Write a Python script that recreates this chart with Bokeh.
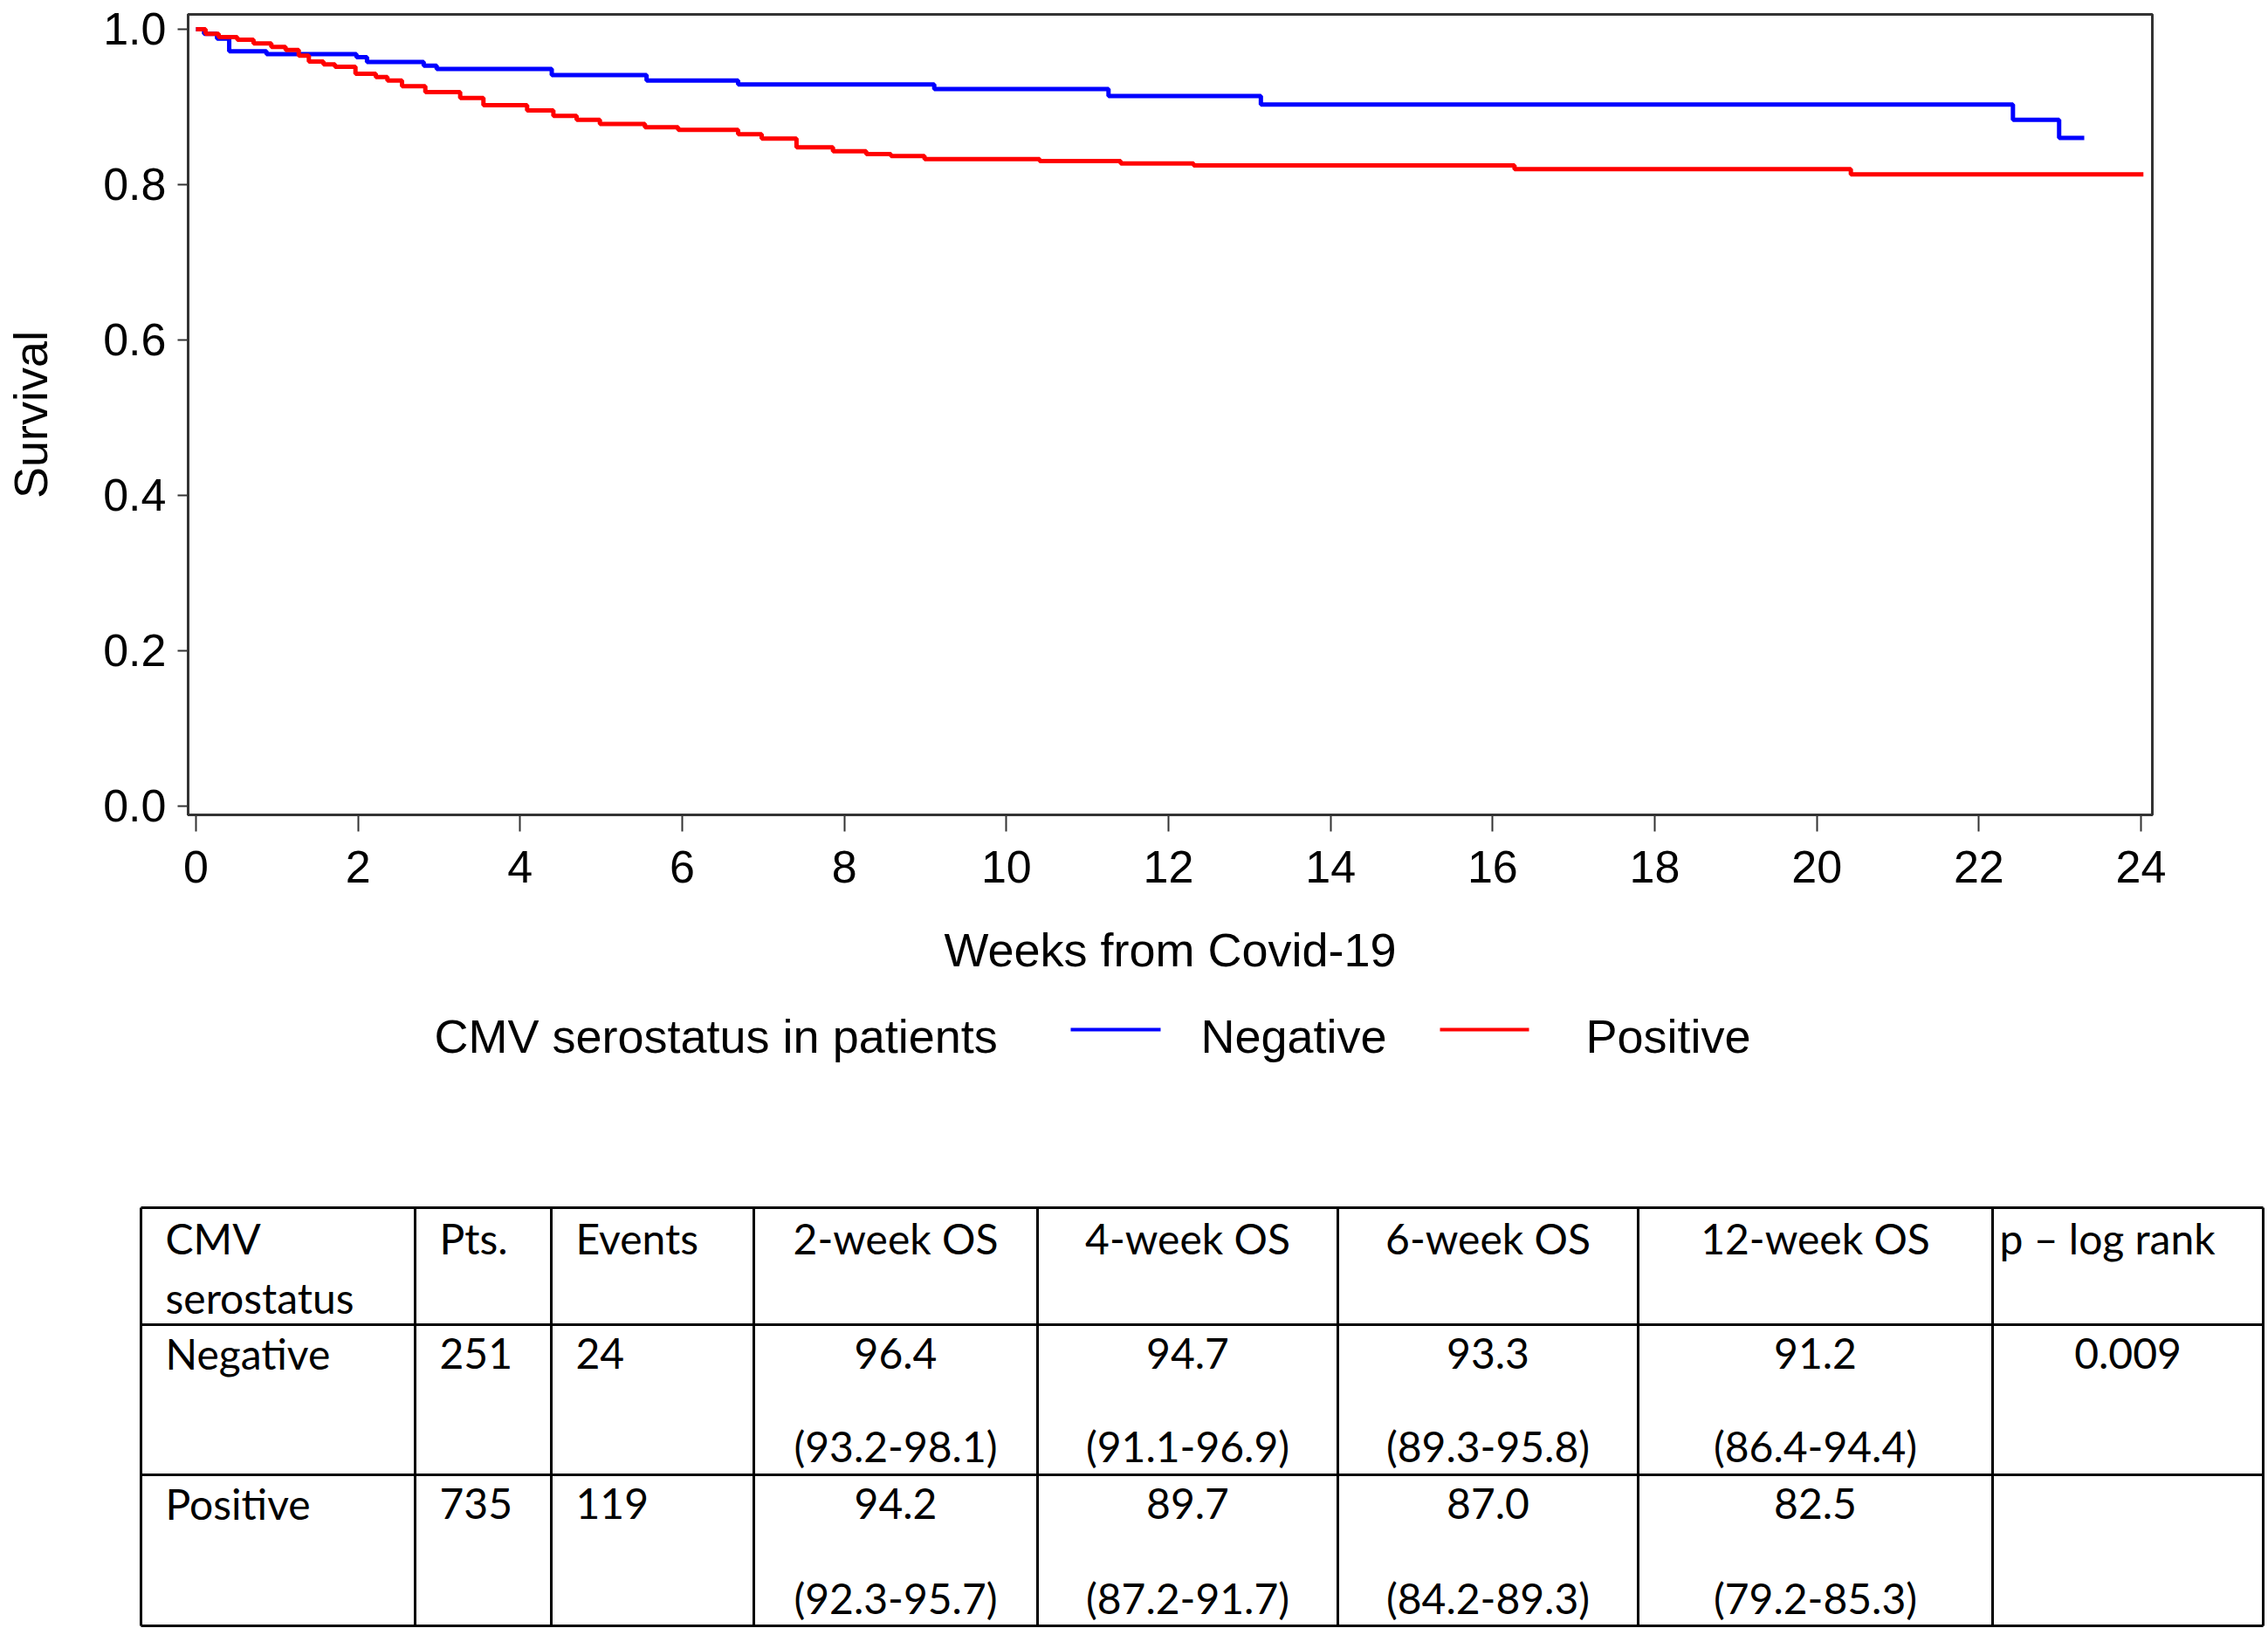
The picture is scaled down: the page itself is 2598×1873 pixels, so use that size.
from bokeh.plotting import figure
from bokeh.models import Range1d, FixedTicker, NumeralTickFormatter, ColumnDataSource
from bokeh.core.properties import value
from bokeh.embed import file_html
from bokeh.resources import INLINE

# ---------------- data ----------------
neg_weeks = [0, 0.10, 0.26, 0.41, 0.87, 1.98, 2.11, 2.81, 2.97, 4.39, 5.56, 6.69,
             9.11, 11.26, 13.14, 22.42, 22.99, 23.30]
neg_surv = [1.0, 0.994, 0.988, 0.9715, 0.968, 0.964, 0.958, 0.953, 0.949, 0.941,
            0.934, 0.929, 0.923, 0.914, 0.903, 0.8835, 0.860, 0.860]

pos_weeks = [0, 0.118, 0.28, 0.51, 0.71, 0.93, 1.106, 1.268, 1.393, 1.573, 1.716,
             1.968, 2.219, 2.362, 2.542, 2.83, 3.26, 3.547, 4.086, 4.41, 4.697,
             4.984, 5.54, 5.95, 6.69, 6.98, 7.41, 7.86, 8.27, 8.575, 8.99, 10.41,
             11.41, 12.31, 16.27, 20.42, 24.03]
pos_surv = [1.0, 0.994, 0.990, 0.9865, 0.9817, 0.9772, 0.9734, 0.9659, 0.9584,
            0.9547, 0.9517, 0.9427, 0.9386, 0.934, 0.9266, 0.9191, 0.9116, 0.9022,
            0.8955, 0.8884, 0.8835, 0.878, 0.874, 0.8704, 0.8648, 0.8592, 0.848,
            0.8431, 0.8393, 0.8367, 0.833, 0.8303, 0.8273, 0.8247, 0.8199, 0.8131,
            0.8131]

x_ticks = [0, 2, 4, 6, 8, 10, 12, 14, 16, 18, 20, 22, 24]
y_ticks = [0.0, 0.2, 0.4, 0.6, 0.8, 1.0]

legend_title = "CMV serostatus in patients"
series_names = ["Negative", "Positive"]
series_colors = ["#0000ff", "#ff0000"]

table_header = ["CMV serostatus", "Pts.", "Events", "2-week OS", "4-week OS",
                "6-week OS", "12-week OS", "p \u2013 log rank"]
groups = ["Negative", "Positive"]
pts = [251, 735]
events = [24, 119]
os_2wk = [96.4, 94.2]
ci_2wk = ["93.2-98.1", "92.3-95.7"]
os_4wk = [94.7, 89.7]
ci_4wk = ["91.1-96.9", "87.2-91.7"]
os_6wk = [93.3, 87.0]
ci_6wk = ["89.3-95.8", "84.2-89.3"]
os_12wk = [91.2, 82.5]
ci_12wk = ["86.4-94.4", "79.2-85.3"]
p_logrank = ["0.009", ""]

# ---------------- KM plot ----------------
W = 2598
H1 = 1140
AX_FONT = "Liberation Sans"

p1 = figure(width=W, height=H1, x_range=Range1d(-0.0969, 24.14),
            y_range=Range1d(-0.01124, 1.0191), output_backend="svg",
            toolbar_location=None, min_border_left=215, min_border_right=133,
            min_border_top=16, min_border_bottom=H1 - 933)
p1.grid.visible = False
p1.outline_line_color = "#333333"
p1.outline_line_width = 3
p1.background_fill_color = "white"
p1.border_fill_color = "white"

for name, xs, ys, col in [(series_names[0], neg_weeks, neg_surv, series_colors[0]),
                          (series_names[1], pos_weeks, pos_surv, series_colors[1])]:
    p1.step(x=xs, y=ys, mode="after", line_color=col, line_width=5)

xa = p1.xaxis[0]
xa.ticker = FixedTicker(ticks=x_ticks)
xa.minor_tick_line_color = None
xa.major_tick_out = 19
xa.major_tick_in = 0
xa.major_tick_line_width = 2
xa.major_tick_line_color = "#333333"
xa.axis_line_width = 3
xa.axis_line_color = "#333333"
xa.major_label_text_font = AX_FONT
xa.major_label_text_font_size = "52px"
xa.major_label_text_color = "black"
xa.major_label_standoff = 22
xa.axis_label = "Weeks from Covid-19"
xa.axis_label_text_font = AX_FONT
xa.axis_label_text_font_size = "54px"
xa.axis_label_text_font_style = "normal"
xa.axis_label_text_color = "black"
xa.axis_label_standoff = 44

ya = p1.yaxis[0]
ya.ticker = FixedTicker(ticks=y_ticks)
ya.formatter = NumeralTickFormatter(format="0.0")
ya.minor_tick_line_color = None
ya.major_tick_out = 12
ya.major_tick_in = 0
ya.major_tick_line_width = 2
ya.major_tick_line_color = "#333333"
ya.axis_line_width = 3
ya.axis_line_color = "#333333"
ya.major_label_text_font = AX_FONT
ya.major_label_text_font_size = "52px"
ya.major_label_text_color = "black"
ya.major_label_standoff = 13
ya.axis_label = "Survival"
ya.axis_label_text_font = AX_FONT
ya.axis_label_text_font_size = "54px"
ya.axis_label_text_font_style = "normal"
ya.axis_label_text_color = "black"
ya.axis_label_standoff = 50

# ---------------- legend + table panel (page pixel coordinates) ----------------
TOP = H1
BOT = 1873
p2 = figure(width=W, height=BOT - TOP, x_range=Range1d(0, W), y_range=Range1d(BOT, TOP),
            output_backend="svg", toolbar_location=None, x_axis_type=None,
            y_axis_type=None, min_border=0)
p2.grid.visible = False
p2.outline_line_color = None
p2.border_fill_color = "white"

DY = -17  # text baseline correction

# legend
p2.text(x=[497], y=[1203 + DY], text=[legend_title], text_font=value(AX_FONT),
        text_font_size=value("54px"), text_baseline="alphabetic", text_align="left",
        text_color="black")
sw_x0 = [1226, 1649]
sw_x1 = [1329, 1751]
lab_x = [1375, 1816]
p2.segment(x0=sw_x0, y0=[1179, 1179], x1=sw_x1, y1=[1179, 1179],
           line_color=series_colors, line_width=4)
p2.text(x=lab_x, y=[1203 + DY, 1203 + DY], text=series_names, text_font=value(AX_FONT),
        text_font_size=value("54px"), text_baseline="alphabetic", text_align="left",
        text_color="black")

# table grid
col_edges = [161, 475, 631, 863, 1188, 1532, 1876, 2282, 2592]
row_edges = [1383, 1517, 1689, 1862]
p2.segment(x0=[col_edges[0]] * len(row_edges), y0=row_edges,
           x1=[col_edges[-1]] * len(row_edges), y1=row_edges,
           line_color="black", line_width=3)
p2.segment(x0=col_edges, y0=[row_edges[0]] * len(col_edges),
           x1=col_edges, y1=[row_edges[-1]] * len(col_edges),
           line_color="black", line_width=3)

TFONT = "Lato"
TSIZE = "48px"
PAD = 28
centers = [(col_edges[i] + col_edges[i + 1]) / 2 for i in range(len(col_edges) - 1)]
lefts = [col_edges[i] + PAD for i in range(len(col_edges) - 1)]

tx, ty, tt, ta = [], [], [], []


def cell(x, y, t, align):
    tx.append(x); ty.append(y + DY); tt.append(t); ta.append(align)


# header
h0 = table_header[0].split(" ")
cell(lefts[0], 1435, h0[0], "left")
cell(lefts[0], 1503, h0[1], "left")
cell(lefts[1], 1435, table_header[1], "left")
cell(lefts[2], 1435, table_header[2], "left")
for j in range(3, 7):
    cell(centers[j], 1435, table_header[j], "center")
cell(col_edges[7] + 8, 1435, table_header[7], "left")

# body rows
row_base = [1567, 1739]
ci_base = [1673, 1847]
est_cols = [os_2wk, os_4wk, os_6wk, os_12wk]
ci_cols = [ci_2wk, ci_4wk, ci_6wk, ci_12wk]
for i, g in enumerate(groups):
    cell(lefts[0], row_base[i], g, "left")
    cell(lefts[1], row_base[i], str(pts[i]), "left")
    cell(lefts[2], row_base[i], str(events[i]), "left")
    for k in range(4):
        cell(centers[3 + k], row_base[i], f"{est_cols[k][i]:.1f}", "center")
        cell(centers[3 + k], ci_base[i], f"({ci_cols[k][i]})", "center")
    if p_logrank[i]:
        cell(centers[7], row_base[i], p_logrank[i], "center")

src = ColumnDataSource(dict(x=tx, y=ty, text=tt, align=ta))
p2.text(x="x", y="y", text="text", text_align="align", source=src,
        text_font=value(TFONT), text_font_size=value(TSIZE),
        text_baseline="alphabetic", text_color="black")

open("out.html", "w").write(file_html([p1, p2], INLINE))
